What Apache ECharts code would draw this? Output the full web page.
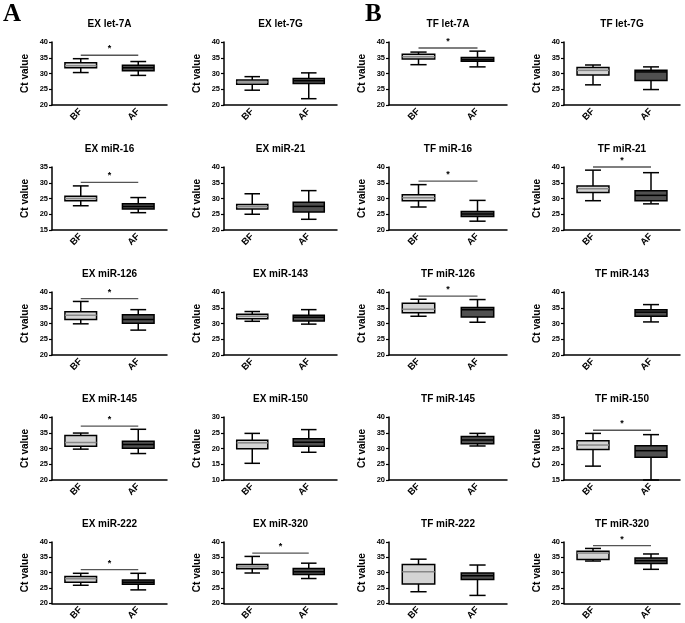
<!DOCTYPE html>
<html><head><meta charset="utf-8">
<script src="https://cdn.jsdelivr.net/npm/echarts@6/dist/echarts.min.js"></script>
<style>html,body{margin:0;padding:0;background:#fff}#c{width:685px;height:623px}</style>
</head><body><div id="c"></div>
<script>
const panelTitles = ['EX let-7A','EX let-7G','TF let-7A','TF let-7G',
  'EX miR-16','EX miR-21','TF miR-16','TF miR-21',
  'EX miR-126','EX miR-143','TF miR-126','TF miR-143',
  'EX miR-145','EX miR-150','TF miR-145','TF miR-150',
  'EX miR-222','EX miR-320','TF miR-222','TF miR-320'];
const categories = ['BF','AF'];
const yMin = [20,20,20,20, 15,20,20,20, 20,20,20,20, 20,10,20,15, 20,20,20,20];
const yMax = [40,40,40,40, 35,40,40,40, 40,40,40,40, 40,30,40,35, 40,40,40,40];
// [min, Q1, median, Q3, max]
const bfStats = [
  [30.3,31.8,32.5,33.4,34.7],[24.7,26.6,27.3,27.9,29.0],[32.8,34.6,35.3,36.1,36.8],[26.4,29.5,31.0,31.9,32.7],
  [22.7,24.3,25.0,25.7,29.0],[25.0,26.7,27.4,28.1,31.5],[27.3,29.3,30.2,31.2,34.4],[29.3,31.9,33.1,34.0,39.0],
  [29.9,31.3,32.6,33.7,37.0],[30.7,31.5,32.3,32.9,33.8],[32.3,33.4,34.5,36.4,37.7],null,
  [29.8,30.7,31.9,34.1,34.9],[15.3,19.9,21.8,22.6,24.8],null,[19.4,24.7,26.1,27.5,29.8],
  [25.9,26.9,28.0,28.8,29.8],[29.9,31.3,31.9,32.7,35.3],[23.8,26.3,30.3,32.7,34.4],[33.8,34.3,36.4,37.0,37.9]
];
const afStats = [
  [29.4,30.9,31.8,32.6,33.8],[22.0,26.8,27.7,28.4,30.2],[32.1,33.9,34.4,35.1,37.1],[24.9,27.8,30.5,31.0,32.1],
  [20.5,21.7,22.5,23.3,25.3],[23.4,25.7,27.5,28.8,32.5],[22.8,24.3,25.1,25.9,29.4],[28.3,29.3,31.0,32.5,38.2],
  [27.9,30.1,31.3,32.8,34.4],[29.8,30.8,32.0,32.6,34.4],[30.4,32.1,34.4,35.1,37.6],[30.5,32.3,33.6,34.4,36.0],
  [28.4,30.1,31.3,32.3,36.1],[18.8,20.7,22.0,23.1,26.0],[30.8,31.5,32.7,33.8,34.8],[15.0,22.2,24.3,25.9,29.4],
  [24.4,26.2,26.9,27.6,29.8],[28.1,29.4,30.3,31.4,33.1],[22.6,27.8,29.0,29.9,32.5],[31.1,33.0,33.9,34.8,36.1]
];
const sigBar = [35.8,null,38.1,null, 30.1,null,35.5,40.0, 37.9,null,38.7,null, 37.1,null,null,30.8, 31.0,36.4,null,38.8];
const panelLetters = ['A','B'];

const FONT = 'Arial, "Liberation Sans", sans-serif';
const colLeft = [52,224,389,564], colW = [115,113,118,116];
const rowTop = [42,167,292,417,542], gridH = 63;
const fills = ['#d4d4d4','#505050'];

function boxRender(params, api){
  const x = api.value(0);
  const v = [1,2,3,4,5].map(d => api.value(d));
  const p = v.map(y => api.coord([x, y]));
  const band = api.size([1,0])[0];
  const bw = band*0.55, cw = bw*0.5;
  const cx = p[0][0];
  const ls = {stroke:'#000', lineWidth:1.5};
  return {type:'group', children:[
    {type:'line', shape:{x1:cx,y1:p[4][1],x2:cx,y2:p[3][1]}, style:ls},
    {type:'line', shape:{x1:cx,y1:p[1][1],x2:cx,y2:p[0][1]}, style:ls},
    {type:'line', shape:{x1:cx-cw/2,y1:p[4][1],x2:cx+cw/2,y2:p[4][1]}, style:ls},
    {type:'line', shape:{x1:cx-cw/2,y1:p[0][1],x2:cx+cw/2,y2:p[0][1]}, style:ls},
    {type:'rect', shape:{x:cx-bw/2,y:p[3][1],width:bw,height:p[1][1]-p[3][1]}, style:{fill:fills[x], stroke:'#000', lineWidth:1.5}},
    {type:'line', shape:{x1:cx-bw/2,y1:p[2][1],x2:cx+bw/2,y2:p[2][1]}, style:{stroke: x===0?'#888':'#000', lineWidth:1.5}}
  ]};
}
function sigRender(params, api){
  const y = api.value(1);
  const a = api.coord([0, y]), b = api.coord([1, y]);
  return {type:'group', children:[
    {type:'line', shape:{x1:a[0],y1:a[1],x2:b[0],y2:b[1]}, style:{stroke:'#555', lineWidth:1.3}},
    {type:'text', x:(a[0]+b[0])/2, y:a[1]-2, style:{text:'*', font:'bold 9px '+FONT, fill:'#000', align:'center', verticalAlign:'bottom'}}
  ]};
}

const grids=[], xAxes=[], yAxes=[], series=[], titles=[];
panelLetters.forEach((l,k)=>{
  titles.push({text:l, left: k===0?3:365, top:2, padding:0,
    textStyle:{fontFamily:'"Liberation Serif", "Times New Roman", serif', fontSize:25, fontWeight:'bold', color:'#000'}});
});
panelTitles.forEach((t,i)=>{
  const r = Math.floor(i/4), c = i%4;
  grids.push({left:colLeft[c], top:rowTop[r], width:colW[c], height:gridH});
  xAxes.push({type:'category', gridIndex:i, data:categories,
    axisLine:{lineStyle:{color:'#000', width:1.5}},
    axisTick:{alignWithLabel:true, length:3, lineStyle:{color:'#000', width:1.2}},
    axisLabel:{rotate:45, fontSize:9.5, fontWeight:'bold', color:'#000', margin:5, fontFamily:FONT}});
  yAxes.push({type:'value', gridIndex:i, min:yMin[i], max:yMax[i], interval:5,
    name:'Ct value', nameLocation:'middle', nameGap:22,
    nameTextStyle:{fontSize:10, fontWeight:'bold', color:'#000', fontFamily:FONT},
    axisLine:{show:true, lineStyle:{color:'#000', width:1.5}},
    axisTick:{show:true, length:3, lineStyle:{color:'#000', width:1.2}},
    splitLine:{show:false},
    axisLabel:{fontSize:7.5, fontWeight:'bold', color:'#000', margin:4, fontFamily:FONT}});
  titles.push({text:t, left: colLeft[c]+colW[c]/2, top: rowTop[r]-23, textAlign:'center', padding:0,
    textStyle:{fontSize:10, fontWeight:'bold', color:'#000', fontFamily:FONT}});
  const data = [];
  if (bfStats[i]) data.push([0, ...bfStats[i]]);
  if (afStats[i]) data.push([1, ...afStats[i]]);
  series.push({type:'custom', xAxisIndex:i, yAxisIndex:i, data, renderItem:boxRender,
    encode:{x:0, y:[1,2,3,4,5]}, silent:true, clip:false});
  if (sigBar[i] != null) {
    series.push({type:'custom', xAxisIndex:i, yAxisIndex:i, data:[[0.5, sigBar[i]]], renderItem:sigRender,
      encode:{x:0, y:1}, silent:true, clip:false});
  }
});

const chart = echarts.init(document.getElementById('c'), null, {renderer:'canvas'});
chart.setOption({animation:false, backgroundColor:'#fff', title:titles, grid:grids, xAxis:xAxes, yAxis:yAxes, series});
</script></body></html>
